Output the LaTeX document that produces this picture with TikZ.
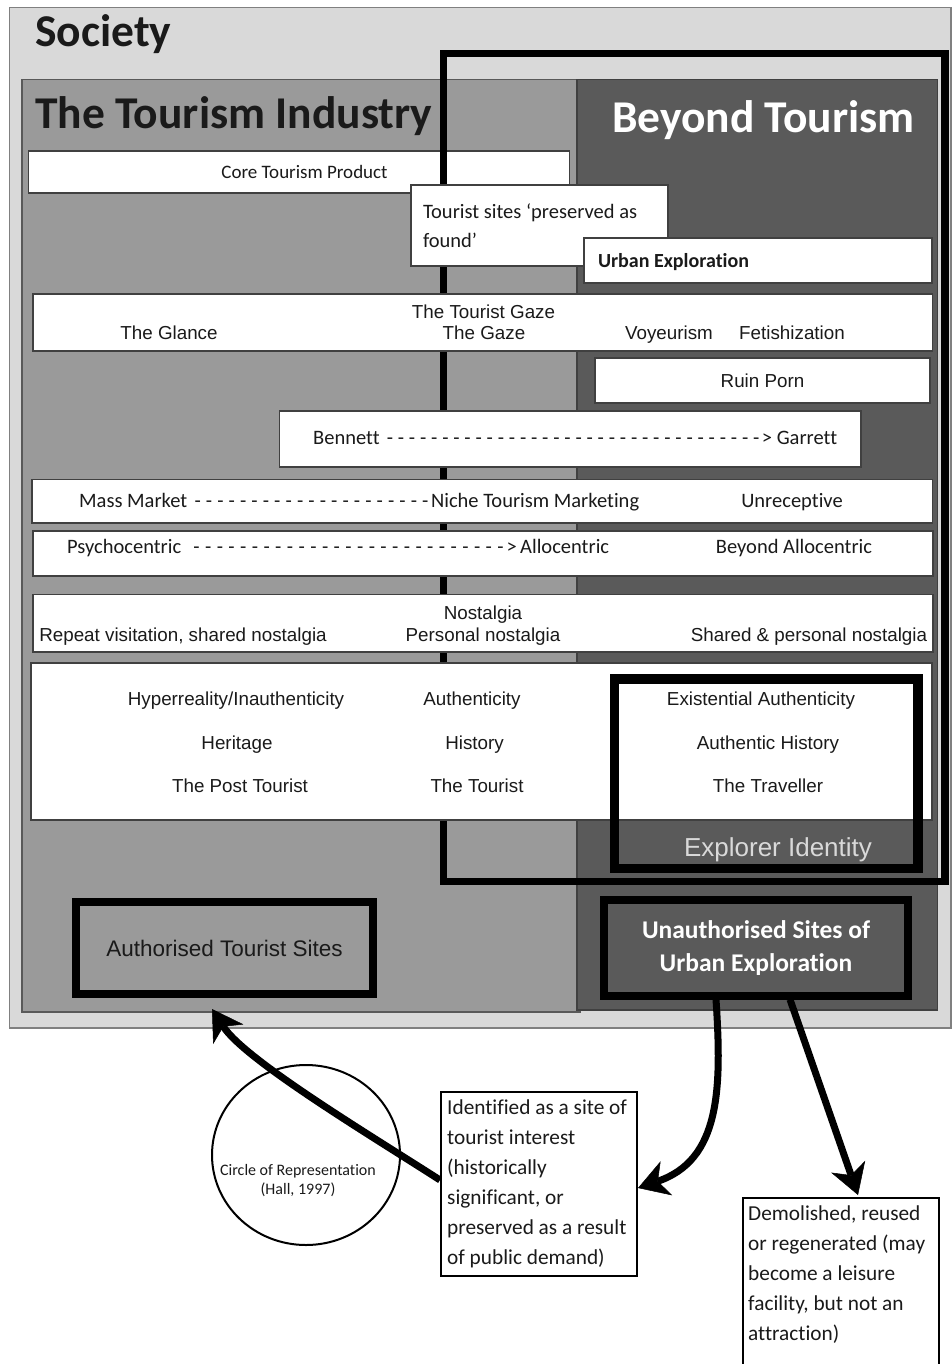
\documentclass[tikz,border=0pt]{standalone}
\usepackage{fontspec}
\newfontfamily\arialf{Liberation Sans}
\newfontfamily\calf[Ligatures=NoCommon]{Carlito}
\usetikzlibrary{arrows.meta,shapes.geometric}
\definecolor{socgray}{HTML}{D9D9D9}
\definecolor{midgray}{HTML}{9A9A9A}
\definecolor{drkgray}{HTML}{5A5A5A}
\definecolor{inkc}{HTML}{1A1A1A}
\newcommand{\natsp}{\spaceskip=0pt\xspaceskip=0pt\relax}
\begin{document}
\begin{tikzpicture}[x=1pt,y=-1pt,
  wbox/.style={draw=black!75, line width=1.5pt, fill=white, inner sep=0pt, rectangle},
  ar/.style={font=\arialf\fontsize{18.8}{22}\selectfont, text=inkc, inner sep=0pt, text height=13.5pt, text depth=0pt},
  ca/.style={font=\calf\fontsize{20.5}{24}\selectfont, text=inkc, inner sep=0pt, text height=13.2pt, text depth=0pt},
  titletxt/.style={font=\calf\bfseries\fontsize{45.5}{50}\selectfont, inner sep=0pt, anchor=base west},
  heavy/.style={draw=black, line width=8pt, inner sep=0pt, rectangle},
  flow/.style={line width=7pt, -{Stealth[length=30pt,width=36pt,inset=9pt,line width=0.5pt]}}
]
\useasboundingbox (0,0) rectangle (952,1364);
\clip (0,0) rectangle (952,1364);

% containers
\node[draw=black!50, line width=1.5pt, fill=socgray, minimum width=941.5pt, minimum height=1020.5pt, inner sep=0pt] (society) at (480.25,517.75) {};
\node[titletxt, text=inkc] (societyT) at (35,47) {Society};
\node[draw=black!65, line width=1.5pt, fill=midgray, minimum width=558pt, minimum height=932.5pt, inner sep=0pt] (tourism) at (301,545.75) {};
\node[draw=black!75, line width=1.5pt, fill=drkgray, minimum width=360.5pt, minimum height=930.5pt, inner sep=0pt] (beyond) at (757.25,544.75) {};
\node[titletxt, text=inkc] (tourismT) at (35,128.5) {The Tourism Industry};
\node[titletxt, text=white] (beyondT) at (612,133) {Beyond Tourism};

% core product
\node[wbox, minimum width=541pt, minimum height=42pt] (core) at (299,172) {};
\node[ca, font=\calf\fontsize{19}{22}\selectfont, text height=12.2pt] (coreT) at (304.5,172) {Core Tourism Product};

% big frame
\node[heavy, line width=7.5pt, minimum width=501.5pt, minimum height=828pt] (frame) at (694.25,467.5) {};

% tourist sites / urban exploration
\node[wbox, minimum width=257pt, minimum height=81pt, text width=233pt, align=left, inner xsep=12pt, text=inkc, font=\calf\fontsize{20.5}{29}\selectfont] (tsites) at (539.5,225.5) {\natsp Tourist sites ‘preserved as\\found’};
\node[wbox, minimum width=348pt, minimum height=45pt, text width=320pt, align=left, inner xsep=14pt, text=inkc, font=\calf\bfseries\fontsize{20}{24}\selectfont, text height=13pt, text depth=0pt] (urban) at (758,260.5) {\natsp Urban Exploration};

% gaze row
\node[wbox, minimum width=899.5pt, minimum height=57pt] (gaze) at (482.75,322.5) {};
\node[ar] (gazeT) at (483.5,312) {The Tourist Gaze};
\node[ar] (glance) at (169,333) {The Glance};
\node[ar] (gazeM) at (484,333) {The Gaze};
\node[ar] (voy) at (669,333) {Voyeurism};
\node[ar] (fet) at (792,333) {Fetishization};

% ruin porn
\node[wbox, ar, draw=black!75, fill=white, minimum width=335pt, minimum height=45pt] (ruin) at (762.5,380.5) {Ruin Porn};

% Bennett row
\node[wbox, minimum width=581.5pt, minimum height=56pt] (bennett) at (570.25,439) {};
\node[ca, anchor=west] (bennettT) at (313,438) {\hbox to 524pt{Bennett\ \xleaders\hbox to 10.9pt{\hss-\hss}\hfill>\ Garrett}};

% market row
\node[wbox, minimum width=900.5pt, minimum height=43.5pt] (mass) at (482.25,501.25) {};
\node[ca, anchor=west] (massT) at (79,501) {\hbox to 560pt{Mass Market\ \xleaders\hbox to 11.3pt{\hss-\hss}\hfill Niche Tourism Marketing}};
\node[ca] (unrec) at (792,501) {Unreceptive};

% psychocentric row
\node[wbox, minimum width=900pt, minimum height=45pt] (psycho) at (483,553.5) {};
\node[ca, anchor=west] (psychoT) at (67,547) {\hbox to 542pt{Psychocentric\ \ \xleaders\hbox to 11.3pt{\hss-\hss}\hfill>\,Allocentric}};
\node[ca] (beyAllo) at (794,547) {Beyond Allocentric};

% nostalgia row
\node[wbox, minimum width=900pt, minimum height=57.5pt] (nost) at (483,623.25) {};
\node[ar] (nostT) at (483,613) {Nostalgia};
\node[ar] (repeatv) at (183,635) {Repeat visitation, shared nostalgia};
\node[ar] (pers) at (483,635) {Personal nostalgia};
\node[ar] (sharedp) at (809,635) {Shared \& personal nostalgia};

% authenticity block
\node[wbox, minimum width=901pt, minimum height=157pt] (authbox) at (481.5,741.5) {};
\node[ar] (hyper) at (236,699) {Hyperreality/Inauthenticity};
\node[ar] (authc) at (472,699) {Authenticity};
\node[ar] (exist) at (761,699) {Existential Authenticity};
\node[ar] (herit) at (237,743) {Heritage};
\node[ar] (hist) at (474.5,743) {History};
\node[ar] (authH) at (768,743) {Authentic History};
\node[ar] (post) at (240,786) {The Post Tourist};
\node[ar] (tour) at (477,786) {The Tourist};
\node[ar] (trav) at (768,786) {The Traveller};

% explorer identity frame
\node[heavy, line width=9.5pt, minimum width=303.5pt, minimum height=189.5pt] (explorer) at (766.25,773.75) {};
\node[ar, font=\arialf\fontsize{26}{30}\selectfont, text=socgray, text height=18.6pt] (explT) at (778,847) {Explorer Identity};

% sites
\node[heavy, fill=midgray, minimum width=297pt, minimum height=92pt, text=inkc, font=\arialf\fontsize{22.5}{26}\selectfont, text height=16pt, text depth=0pt] (authsites) at (224.5,948) {Authorised Tourist Sites};
\node[heavy, fill=drkgray, minimum width=304pt, minimum height=95.5pt, align=center, text=white, font=\calf\bfseries\fontsize{25.5}{33}\selectfont] (unauth) at (756,947.75) {\natsp Unauthorised Sites of\\Urban Exploration};

% bottom part
\node[draw=black, line width=2pt, ellipse, minimum width=188pt, minimum height=180pt, inner sep=0pt] (circ) at (306,1155) {};
\node[font=\calf\fontsize{16}{19}\selectfont, align=center, inner sep=0pt, text=inkc] (circT) at (298,1181) {\natsp Circle of Representation\\(Hall, 1997)};

\node[draw=black, line width=2pt, fill=white, minimum width=196pt, minimum height=184pt, inner sep=0pt] (ident) at (539,1184) {};
\node[anchor=north west, inner sep=0pt, align=left, text=inkc, font=\calf\fontsize{21.3}{30}\selectfont] (identT) at (447,1099) {\natsp Identified as a site of\\tourist interest\\(historically\\significant, or\\preserved as a result\\of public demand)};

\node[draw=black, line width=2pt, fill=white, minimum width=196pt, minimum height=200pt, anchor=north west, inner sep=0pt] (demol) at (742,1197) {};
\node[anchor=north west, inner sep=0pt, align=left, text=inkc, font=\calf\fontsize{21.3}{30}\selectfont] (demolT) at (748,1205) {\natsp Demolished, reused\\or regenerated (may\\become a leisure\\facility, but not an\\attraction)};

% arrows
\draw[flow] ([yshift=4pt]ident.west) .. controls (370,1135) and (245,1060) .. ([xshift=-12.5pt,yshift=-11pt]authsites.south);
\draw[flow] ([xshift=-40pt]unauth.south) .. controls (722,1090) and (720,1160) .. ([yshift=-4pt]ident.east);
\draw[flow] ([xshift=34pt]unauth.south) -- ([xshift=17pt,yshift=2pt]demol.north);
\end{tikzpicture}
\end{document}
